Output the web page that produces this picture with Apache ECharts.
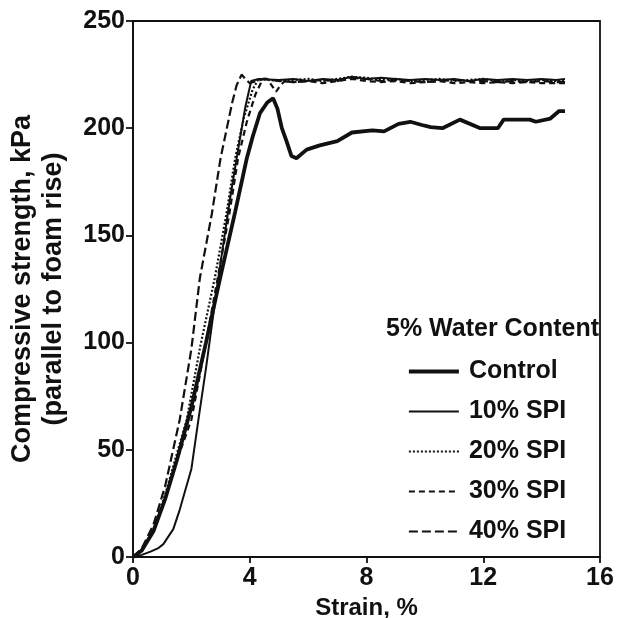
<!DOCTYPE html>
<html>
<head>
<meta charset="utf-8">
<script src="https://cdn.jsdelivr.net/npm/echarts@6/dist/echarts.min.js"></script>
<style>html,body{margin:0;padding:0;background:#fff;}#c{width:618px;height:618px;}</style>
</head>
<body>
<div id="c"></div>
<script>
// x-axis ticks / y-axis ticks
const xTicks = [0, 4, 8, 12, 16];
const yTicks = [0, 50, 100, 150, 200, 250];

const seriesNames = ['Control', '10% SPI', '20% SPI', '30% SPI', '40% SPI'];
const legendTitle = '5% Water Content';

// Control (thick solid)
const controlStrain = [0, 0.3, 0.7, 1.1, 1.5, 2.0, 2.5, 3.0, 3.5, 3.9, 4.1, 4.35, 4.6, 4.8, 4.95, 5.1, 5.26, 5.43, 5.6, 5.95, 6.4, 7.0, 7.5, 8.2, 8.6, 9.1, 9.5, 9.9, 10.2, 10.6, 11.2, 11.9, 12.5, 12.7, 13.6, 13.8, 14.3, 14.6, 14.8];
const controlStress = [0, 3, 12, 27, 45, 70, 100, 131, 161, 186, 196, 207, 212, 214, 209, 200, 194, 187, 186, 190, 192, 194, 198, 199, 198.5, 202, 203, 201.5, 200.5, 200, 204, 200, 200, 204, 204, 203, 204.5, 208, 208];

// 10% SPI (thin solid)
const spi10Strain = [0, 0.3, 0.6, 0.85, 1.04, 1.38, 1.6, 2.0, 2.24, 2.5, 2.9, 3.3, 3.6, 3.85, 4.05, 4.3, 5.0, 5.5, 6.0, 6.5, 7.0, 7.5, 8.0, 8.5, 9.0, 9.5, 10.0, 10.5, 11.0, 11.5, 12.0, 12.5, 13.0, 13.5, 14.0, 14.5, 14.8];
const spi10Stress = [0, 1, 2.5, 4, 6, 13, 22, 41, 64, 88, 128, 165, 190, 210, 222, 223, 222.5, 223, 222, 223, 222.5, 224, 223, 223.5, 223, 222.5, 223, 222.5, 223, 222, 223, 222.5, 223, 222.5, 223, 222.5, 223];

// 20% SPI (dotted)
const spi20Strain = [0, 0.3, 0.7, 1.1, 1.5, 1.84, 2.3, 2.8, 3.2, 3.5, 3.8, 4.1, 4.3, 5.0, 5.5, 6.0, 6.5, 7.0, 7.5, 8.0, 8.5, 9.0, 9.5, 10.0, 10.5, 11.0, 11.5, 12.0, 12.5, 13.0, 13.5, 14.0, 14.5, 14.8];
const spi20Stress = [0, 3, 13, 29, 48, 64, 98, 130, 160, 186, 205, 218, 223, 222, 222.5, 223, 222, 223, 224, 223.5, 222.5, 223, 222, 222.5, 223, 222, 222.5, 223, 222, 222.5, 222, 222.5, 222, 222];

// 30% SPI (short dashes)
const spi30Strain = [0, 0.3, 0.7, 1.1, 1.5, 2.0, 2.5, 2.9, 3.3, 3.6, 3.9, 4.2, 4.45, 4.6, 4.75, 4.9, 5.05, 5.2, 5.5, 6.0, 6.5, 7.0, 7.5, 8.0, 8.5, 9.0, 9.5, 10.0, 10.5, 11.0, 11.5, 12.0, 12.5, 13.0, 13.5, 14.0, 14.5, 14.8];
const spi30Stress = [0, 3, 12, 27, 45, 64, 100, 130, 160, 186, 203, 216, 223, 223, 220, 217, 220, 222, 221.5, 222, 221, 222, 223, 222, 221.5, 222, 221, 221.5, 222, 221, 221.5, 221, 221.5, 221, 221.5, 221, 221, 221];

// 40% SPI (long dashes)
const spi40Strain = [0, 0.3, 0.7, 1.1, 1.6, 2.0, 2.29, 2.7, 3.0, 3.4, 3.55, 3.72, 3.85, 4.0, 4.2, 4.5, 5.0, 5.5, 6.0, 6.5, 7.0, 7.5, 8.0, 8.5, 9.0, 9.5, 10.0, 10.5, 11.0, 11.5, 12.0, 12.5, 13.0, 13.5, 14.0, 14.5, 14.8];
const spi40Stress = [0, 4, 15, 33, 64, 97, 130, 160, 186, 212, 220, 225, 223, 221, 222, 223, 222, 221.5, 222, 222.5, 222, 223.5, 223, 222, 222.5, 222, 221.5, 222, 222.5, 222, 222, 221.5, 222, 221.5, 222, 221.5, 221.5];

function pairs(xs, ys) { return xs.map((x, i) => [x, ys[i]]); }

const ink = '#111';
const font = '"Liberation Sans", Arial, Helvetica, sans-serif';

const styles = [
  { width: 3.8, type: 'solid' },
  { width: 2, type: 'solid' },
  { width: 2.2, type: [2, 2] },
  { width: 2.2, type: [6, 4] },
  { width: 2.2, type: [9, 4] }
];
const dataSets = [
  pairs(controlStrain, controlStress),
  pairs(spi10Strain, spi10Stress),
  pairs(spi20Strain, spi20Stress),
  pairs(spi30Strain, spi30Stress),
  pairs(spi40Strain, spi40Stress)
];

const chart = echarts.init(document.getElementById('c'), null, { renderer: 'canvas' });
chart.setOption({
  animation: false,
  backgroundColor: '#fff',
  title: {
    text: legendTitle,
    left: 381, top: 312,
    textStyle: { fontFamily: font, fontWeight: 'bold', fontSize: 25, color: ink }
  },
  legend: {
    orient: 'vertical',
    left: 402, top: 354,
    itemWidth: 50, itemHeight: 25, itemGap: 15,
    itemStyle: { opacity: 0 },
    textStyle: { fontFamily: font, fontWeight: 'bold', fontSize: 25, color: ink, padding: [0, 0, 0, 5] },
    data: seriesNames.map((n, i) => ({
      name: n,
      itemStyle: { opacity: 0 },
      lineStyle: { color: ink, width: styles[i].width, type: styles[i].type, opacity: 1 }
    }))
  },
  grid: { left: 133, right: 18, top: 21, bottom: 61, show: true, borderColor: ink, borderWidth: 1.8, containLabel: false, outerBoundsMode: 'none' },
  xAxis: {
    type: 'value', min: xTicks[0], max: xTicks[xTicks.length - 1], interval: 4,
    name: 'Strain, %', nameLocation: 'middle', nameGap: 37,
    nameTextStyle: { fontFamily: font, fontWeight: 'bold', fontSize: 24, color: ink },
    axisLine: { lineStyle: { color: ink, width: 1.8 } },
    axisTick: { length: 6, lineStyle: { color: ink, width: 1.8 } },
    axisLabel: { fontFamily: font, fontWeight: 'bold', fontSize: 25, color: ink, margin: 9 },
    splitLine: { show: false }
  },
  yAxis: {
    type: 'value', min: yTicks[0], max: yTicks[yTicks.length - 1], interval: 50,
    name: 'Compressive strength, kPa\n(parallel to foam rise)', nameLocation: 'middle', nameGap: 64,
    nameTextStyle: { fontFamily: font, fontWeight: 'bold', fontSize: 27, color: ink, lineHeight: 31 },
    axisLine: { lineStyle: { color: ink, width: 1.8 } },
    axisTick: { length: 7, lineStyle: { color: ink, width: 1.8 } },
    axisLabel: { fontFamily: font, fontWeight: 'bold', fontSize: 25, color: ink, margin: 8 },
    splitLine: { show: false }
  },
  series: seriesNames.map((n, i) => ({
    name: n, type: 'line', data: dataSets[i], showSymbol: false, symbol: 'none',
    lineStyle: { color: ink, width: styles[i].width, type: styles[i].type },
    itemStyle: { color: ink },
    smooth: false, z: 3
  }))
});
</script>
</body>
</html>
